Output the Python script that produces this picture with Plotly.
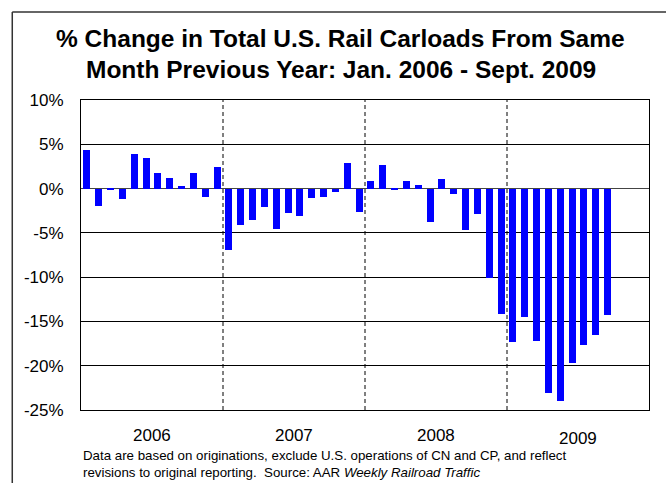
import plotly.graph_objects as go

months = list(range(45))
changes = [
    4.3, -2.0, -0.1, -1.2, 3.9, 3.5, 1.8, 1.2, 0.3, 1.8, -1.0, 2.4,
    -6.9, -4.1, -3.5, -2.1, -4.6, -2.8, -3.1, -1.1, -0.9, -0.4, 2.9, -2.6,
    0.9, 2.7, -0.2, 0.9, 0.4, -3.8, 1.1, -0.6, -4.7, -2.9, -10.1, -14.2,
    -17.3, -14.5, -17.2, -23.1, -24.0, -19.7, -17.7, -16.5, -14.3,
]
years = ["2006", "2007", "2008", "2009"]
year_centers = [5.5, 17.5, 29.5, 41.5]
dividers = [11.5, 23.5, 35.5]
y_ticks = [10, 5, 0, -5, -10, -15, -20, -25]

fig = go.Figure()
fig.add_trace(go.Bar(x=months, y=changes, marker_color="#0000FF",
                     marker_line_width=0, width=0.6))

shapes = []
for d in dividers:
    shapes.append(dict(type="line", xref="x", yref="paper", x0=d, x1=d, y0=0, y1=1,
                       line=dict(color="black", width=1, dash="4px,3px")))
# outer frame (left and top edges)
shapes.append(dict(type="line", xref="paper", yref="paper", x0=-0.121, x1=-0.121,
                   y0=-0.25, y1=1.284, line=dict(color="#333333", width=1.5)))
shapes.append(dict(type="line", xref="paper", yref="paper", x0=-0.121, x1=1.1,
                   y0=1.284, y1=1.284, line=dict(color="#333333", width=1.5)))

annotations = []
title_lines = ["<b>% Change in Total U.S. Rail Carloads From Same</b>",
               "<b>Month Previous Year: Jan. 2006 - Sept. 2009</b>"]
for line, ypos in zip(title_lines, [1.2, 1.097]):
    annotations.append(dict(x=0.457, y=ypos, xref="paper", yref="paper",
                            xanchor="center", yanchor="middle", text=line,
                            showarrow=False, font=dict(size=24.5, color="black")))
for yr, c in zip(years, year_centers):
    annotations.append(dict(x=c, y=-25, xref="x", yref="y", text=yr, showarrow=False,
                            yshift=-25 if yr != "2009" else -28,
                            font=dict(size=17, color="black")))
annotations.append(dict(
    x=0.0, y=-0.115, xref="paper", yref="paper", xanchor="left", yanchor="top",
    align="left", showarrow=False,
    text="Data are based on originations, exclude U.S. operations of CN and CP, and reflect<br>"
         "revisions to original reporting.  Source: AAR <i>Weekly Railroad Traffic</i>",
    font=dict(size=13.3, color="black")))

fig.update_layout(
    width=666, height=483,
    margin=dict(l=81, r=17, t=100, b=73),
    paper_bgcolor="white", plot_bgcolor="white",
    font=dict(family="Liberation Sans, Arial, sans-serif", color="black"),
    showlegend=False,
    shapes=shapes,
    annotations=annotations,
    bargap=0,
)
fig.update_xaxes(range=[-0.5, 47.5], showticklabels=False, showgrid=False,
                 zeroline=False, showline=True, mirror=True, linecolor="black",
                 linewidth=1, ticks="")
fig.update_yaxes(range=[-25, 10], tickvals=y_ticks,
                 ticktext=[f"{v}%" for v in y_ticks],
                 showgrid=True, gridcolor="black", gridwidth=1,
                 zeroline=True, zerolinecolor="#444444", zerolinewidth=1,
                 showline=True, mirror=True, linecolor="black", linewidth=1,
                 ticks="", ticklabelstandoff=13, tickfont=dict(size=17))

fig.write_html("out.html", config={"displayModeBar": False},
               post_script="document.body.style.margin='0';")
